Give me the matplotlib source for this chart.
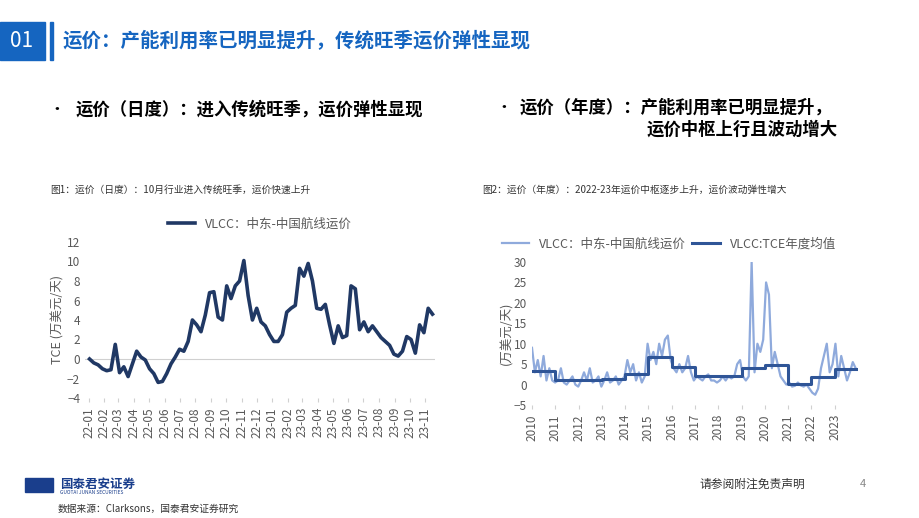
import matplotlib
matplotlib.use("Agg")
import matplotlib.pyplot as plt
import numpy as np
import pandas as pd
from matplotlib.patches import Rectangle

plt.rcParams["font.family"] = ["Noto Sans CJK SC", "DejaVu Sans"]

# left chart: VLCC daily TCE (10k USD/day), 2022-01 .. 2023-11
left_values = [0, -0.4, -0.6, -1.0, -1.2, -1.1, 1.5, -1.4, -0.8, -1.8, -0.5, 0.8, 0.2, -0.1,
               -1.0, -1.5, -2.4, -2.3, -1.5, -0.5, 0.2, 1.0, 0.8, 1.8, 4.0, 3.5, 2.8, 4.5, 6.8,
               6.9, 4.3, 4.0, 7.5, 6.2, 7.5, 8.0, 10.1, 6.5, 4.0, 5.2, 3.8, 3.4, 2.5, 1.8, 1.8,
               2.5, 4.8, 5.2, 5.5, 9.3, 8.5, 9.8, 8.0, 5.2, 5.1, 5.6, 3.5, 1.6, 3.4, 2.2, 2.4,
               7.5, 7.2, 3.0, 3.8, 2.8, 3.4, 2.8, 2.2, 1.8, 1.4, 0.5, 0.3, 0.8, 2.3, 2.0, 0.6,
               3.5, 2.7, 5.2, 4.6]
left_start, left_end = "2022-01-03", "2023-11-15"
left_ticks = pd.date_range("2022-01-01", "2023-11-01", freq="MS")

# right chart: VLCC TCE 2010-2023, light series and annual means
right_values = [9, 3, 6, 2, 7, 1, 4, 1, 0.5, 1, 4, 0.5, 0, 1, 2, 0, -0.5, 1, 3, 1, 4, 0.5, 1, 2,
                -0.5, 1, 3, 0.5, 1, 2, 0, 1, 2, 6, 3, 5, 1, 3, 0.5, 2, 10, 6, 8, 5, 10, 7, 11, 12,
                6, 4, 3, 5, 3, 4, 7, 3, 1, 2, 1.5, 1, 2, 2.5, 1, 1, 0.5, 1, 2, 1, 2, 1.5, 2, 5,
                6, 2, 1, 2, 30, 3, 10, 8, 11, 25, 22, 4, 8, 5, 2, 1, 0, 0.5, -0.5, -0.3, 0.5, -0.2,
                -0.5, 0, -1, -2, -2.5, -1, 4, 7, 10, 3, 5, 10, 2, 7, 4, 1, 3, 5.5, 4]
right_start, right_end = 2010.0, 2023.9
years = list(range(2010, 2024))
annual_mean = [3.2, 1.0, 1.2, 1.3, 2.5, 6.8, 4.3, 2.0, 2.0, 4.0, 4.8, 0.1, 1.8, 3.7]

fig = plt.figure(figsize=(9.2, 5.18), dpi=100)
W, H = 920, 518


def px(x, y):
    return x / W, 1 - y / H


# header
fig.patches.append(Rectangle(px(0, 60), 45 / W, 38 / H, transform=fig.transFigure,
                             color="#1565C0"))
fig.patches.append(Rectangle(px(50, 60), 3 / W, 38 / H, transform=fig.transFigure,
                             color="#1565C0"))
fig.text(*px(22, 41), "01", color="white", fontsize=15, ha="center", va="center")
fig.text(*px(62, 41), "运价：产能利用率已明显提升，传统旺季运价弹性显现", color="#1565C0",
         fontsize=14, fontweight="bold", va="center")

# bullets
fig.text(*px(48, 110), "•", fontsize=12, va="center")
fig.text(*px(76, 110), "运价（日度）：进入传统旺季，运价弹性显现", fontsize=12.5,
         fontweight="bold", va="center")
fig.text(*px(495, 108), "•", fontsize=12, va="center")
fig.text(*px(520, 108), "运价（年度）：产能利用率已明显提升，", fontsize=12.5,
         fontweight="bold", va="center")
fig.text(*px(647, 130), "运价中枢上行且波动增大", fontsize=12.5,
         fontweight="bold", va="center")

fig.text(*px(50, 190), "图1：运价（日度）：10月行业进入传统旺季，运价快速上升", fontsize=7,
         va="center", color="#333333")
fig.text(*px(482, 190), "图2：运价（年度）：2022-23年运价中枢逐步上升，运价波动弹性增大",
         fontsize=7, va="center", color="#333333")

grey = "#595959"

# left chart
ax1 = fig.add_axes([85 / W, 1 - 398 / H, 350 / W, 156 / H])
ld = pd.date_range(left_start, left_end, periods=len(left_values))
ax1.plot(ld, left_values, color="#203864", lw=2.6, label="VLCC：中东-中国航线运价")
ax1.set_ylim(-4, 12)
ax1.set_yticks(range(-4, 13, 2))
ax1.set_xlim(pd.Timestamp("2021-12-25"), pd.Timestamp("2023-11-20"))
ax1.set_xticks(left_ticks)
ax1.set_xticklabels([d.strftime("%y-%m") for d in left_ticks], rotation=90)
ax1.axhline(0, color="#d0d0d0", lw=0.8, zorder=0)
ax1.set_ylabel("TCE (万美元/天)", color=grey, fontsize=9, labelpad=2)
ax1.legend(loc="lower center", bbox_to_anchor=(0.5, 1.0), frameon=False, fontsize=9,
           labelcolor=grey, handlelength=2.2)

# right chart
ax2 = fig.add_axes([532 / W, 1 - 405 / H, 326 / W, 143 / H])
rx = np.linspace(right_start, right_end, len(right_values))
ax2.plot(rx, right_values, color="#8FAADC", lw=1.6, label="VLCC：中东-中国航线运价")
sx = years + [right_end]
sy = annual_mean + [annual_mean[-1]]
ax2.step(sx, sy, where="post", color="#2F5597", lw=2.2, label="VLCC:TCE年度均值")
ax2.set_ylim(-5, 30)
ax2.set_yticks(range(-5, 31, 5))
ax2.set_xlim(2010, 2024)
ax2.set_xticks(years)
ax2.set_xticklabels([str(y) for y in years], rotation=90)
ax2.set_ylabel("(万美元/天)", color=grey, fontsize=9, labelpad=0)
ax2.legend(loc="lower center", bbox_to_anchor=(0.42, 1.0), frameon=False, fontsize=9,
           labelcolor=grey, ncol=2, handlelength=2.2, columnspacing=0.5)

for ax in (ax1, ax2):
    for s in ax.spines.values():
        s.set_visible(False)
    ax.tick_params(length=0, labelsize=8.5, colors=grey)
    ax.tick_params(axis="x", length=3, color="#d0d0d0")
    ax.patch.set_alpha(0)

# footer
fig.text(*px(60, 484), "国泰君安证券", color="#1a3e8c", fontsize=9, fontweight="bold", va="center")
fig.text(*px(60, 492), "GUOTAI JUNAN SECURITIES", color="#1a3e8c", fontsize=3.5, va="center")
fig.patches.append(Rectangle(px(25, 492), 28 / W, 14 / H, transform=fig.transFigure,
                             color="#1a3e8c"))
fig.text(*px(700, 484), "请参阅附注免责声明", fontsize=8.5, va="center", color="#333333")
fig.text(*px(860, 484), "4", fontsize=8, va="center", color="#888888")
fig.text(*px(58, 509), "数据来源：Clarksons，国泰君安证券研究", fontsize=7, va="center",
         color="#333333")

fig.savefig("out.png", dpi=100)
